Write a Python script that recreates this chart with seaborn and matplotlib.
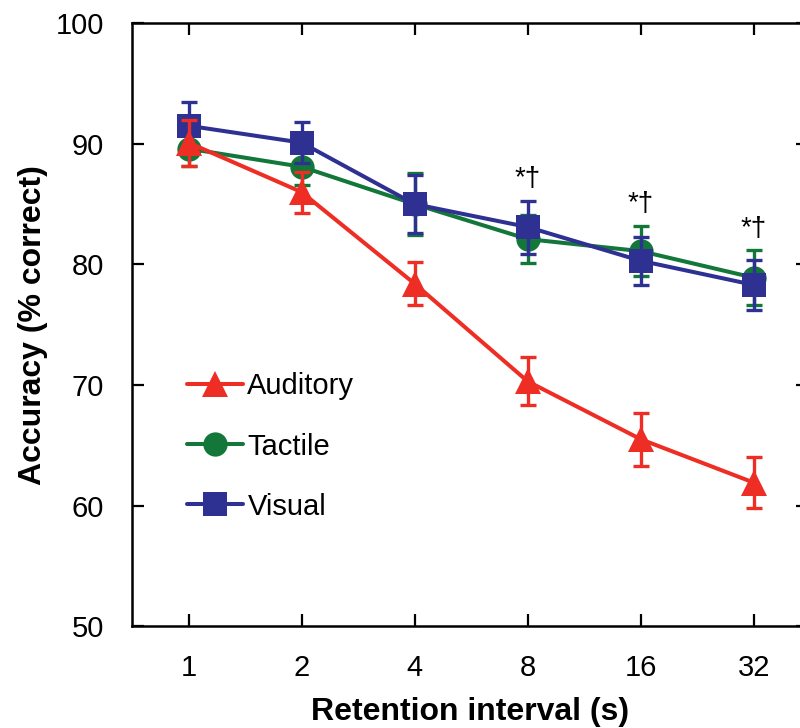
import matplotlib
matplotlib.use("Agg")
import matplotlib.pyplot as plt
import seaborn as sns
import pandas as pd
import numpy as np

intervals = [1, 2, 4, 8, 16, 32]
tick_labels = ["1", "2", "4", "8", "16", "32"]
auditory = [90.1, 86.0, 78.4, 70.3, 65.5, 61.9]
auditory_err = [1.9, 1.7, 1.8, 2.0, 2.2, 2.1]
tactile = [89.6, 88.1, 85.0, 82.1, 81.1, 78.9]
tactile_err = [1.4, 1.5, 2.6, 2.0, 2.1, 2.3]
visual = [91.5, 90.1, 85.0, 83.1, 80.3, 78.3]
visual_err = [2.0, 1.7, 2.4, 2.2, 2.0, 2.1]
sig_intervals = [8, 16, 32]
sig_label = "*†"

colors = {"Auditory": "#EE2D24", "Tactile": "#13773A", "Visual": "#2E3192"}
markers = {"Auditory": "^", "Tactile": "o", "Visual": "s"}
msizes = {"Auditory": 19, "Tactile": 17.5, "Visual": 17}
zorders = {"Auditory": 5, "Tactile": 3, "Visual": 4}

series = {"Auditory": (auditory, auditory_err),
          "Tactile": (tactile, tactile_err),
          "Visual": (visual, visual_err)}

rows = []
for name, (vals, errs) in series.items():
    for x, v, e in zip(intervals, vals, errs):
        rows.append({"interval": x, "accuracy": v, "err": e, "modality": name})
df = pd.DataFrame(rows)

sns.set_theme(style="ticks")
plt.rcParams["font.family"] = ["Liberation Sans", "DejaVu Sans"]
plt.rcParams.update({"text.color": "black", "axes.labelcolor": "black",
                     "xtick.color": "black", "ytick.color": "black"})

fig = plt.figure(figsize=(8, 7.28), dpi=100)
ax = fig.add_axes([0.165, 0.140, 0.845, 0.828])
ax.set_xscale("log", base=2)

for name in ["Tactile", "Visual", "Auditory"]:
    sub = df[df.modality == name]
    c = colors[name]
    ax.errorbar(sub.interval, sub.accuracy, yerr=sub.err, fmt="none",
                ecolor=c, elinewidth=2.4, capsize=5.5, capthick=2.4,
                zorder=zorders[name])
    sns.lineplot(data=sub, x="interval", y="accuracy", ax=ax, color=c,
                 marker=markers[name], markersize=msizes[name],
                 markeredgewidth=0, linewidth=2.9, label=name,
                 zorder=zorders[name], legend=False)

# significance markers
for x in sig_intervals:
    i = intervals.index(x)
    top = max(tactile[i] + tactile_err[i], visual[i] + visual_err[i])
    ax.annotate(sig_label, xy=(x, top), xytext=(0, 6), textcoords="offset points",
                ha="center", va="bottom", fontsize=20, color="black")

ax.set_xlim(2 ** -0.5, 2 ** 5.48)
ax.set_ylim(50, 100)
ax.set_xticks(intervals)
ax.set_xticklabels(tick_labels)
ax.xaxis.set_minor_locator(matplotlib.ticker.NullLocator())
ax.set_yticks([50, 60, 70, 80, 90, 100])
ax.tick_params(axis="both", which="major", direction="in", length=8.5, width=1.6,
               labelsize=21, top=True, right=True, pad=20, colors="black")
for s in ax.spines.values():
    s.set_linewidth(1.8)
    s.set_color("black")

ax.set_xlabel("Retention interval (s)", fontsize=23, fontweight="bold", labelpad=11)
ax.set_ylabel("Accuracy (% correct)", fontsize=23, fontweight="bold", labelpad=6)

handles, labels = ax.get_legend_handles_labels()
order = ["Auditory", "Tactile", "Visual"]
hmap = dict(zip(labels, handles))
leg = ax.legend([hmap[k] for k in order], order, loc="lower left",
                bbox_to_anchor=(0.081, 0.175), frameon=False, fontsize=21,
                handlelength=1.93, handletextpad=0.15, labelspacing=1.1,
                borderaxespad=0, borderpad=0)

fig.savefig("out.png", dpi=100)
